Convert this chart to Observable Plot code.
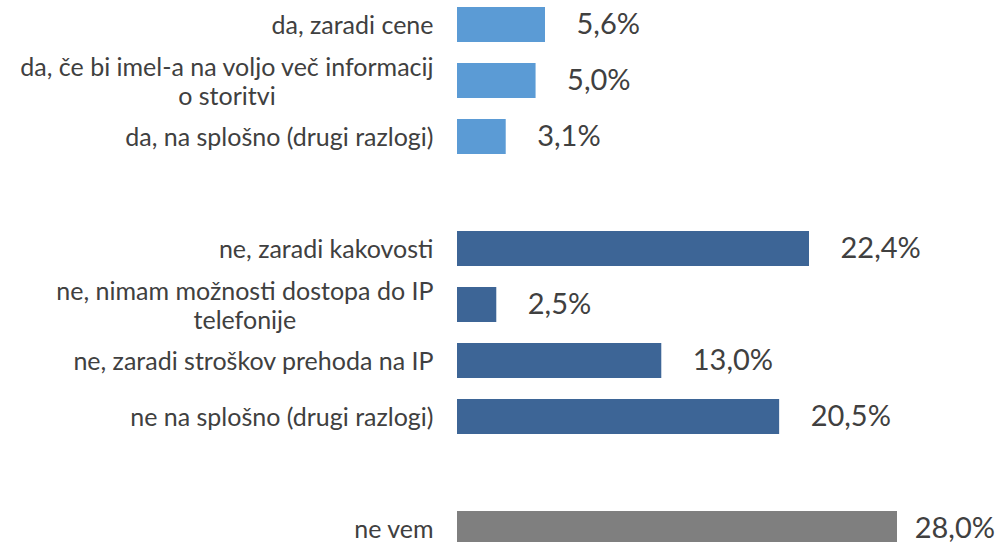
<!DOCTYPE html>
<html>
<head>
<meta charset="utf-8">
<script src="https://cdn.jsdelivr.net/npm/d3@7"></script>
<script src="https://cdn.jsdelivr.net/npm/@observablehq/plot@0.6"></script>
<style>
  html, body { margin: 0; padding: 0; background: #fff; }
  #chart { width: 999px; height: 542px; overflow: hidden; }
</style>
</head>
<body>
<div id="chart"></div>
<script>
const categories = [
  "da, zaradi cene",
  "da, če bi imel-a na voljo več informacij\no storitvi",
  "da, na splošno (drugi razlogi)",
  "ne, zaradi kakovosti",
  "ne, nimam možnosti dostopa do IP\ntelefonije",
  "ne, zaradi stroškov prehoda na IP",
  "ne na splošno (drugi razlogi)",
  "ne vem"
];
const values = [5.6, 5.0, 3.1, 22.4, 2.5, 13.0, 20.5, 28.0];
const groups = ["da", "da", "da", "ne", "ne", "ne", "ne", "ne vem"];
const groupColors = ["#5B9BD5", "#3D6596", "#7F7F7F"];
const spacers = [" ", "  "];

const data = categories.map((c, i) => ({category: c, value: values[i], group: groups[i]}));
const yDomain = [
  ...categories.slice(0, 3), spacers[0],
  ...categories.slice(3, 7), spacers[1],
  categories[7]
];
const fmt = v => v.toFixed(1).replace(".", ",") + "%";
const FONT = "Lato, 'Open Sans', sans-serif";

const chart = Plot.plot({
  width: 999,
  height: 542,
  style: {fontFamily: FONT, background: "#fff", color: "#404040"},
  x: {domain: [0, 28], range: [457, 897], axis: null},
  y: {domain: yDomain, range: [-14, 567], padding: 0.375, axis: null},
  color: {domain: ["da", "ne", "ne vem"], range: groupColors},
  marks: [
    Plot.barX(data, {x: "value", y: "category", fill: "group"}),
    Plot.text(data, {
      x: 0, y: "category", text: "category",
      textAnchor: "end", dx: -24, fontSize: 25, lineHeight: 1.17,
      fill: "#404040", className: "catlabels"
    }),
    Plot.text(data, {
      x: "value", y: "category", text: d => fmt(d.value),
      textAnchor: "start", dx: 31, fontSize: 29, fill: "#404040",
      className: "vallabels"
    })
  ]
});
document.getElementById("chart").appendChild(chart);

// Excel-style: multi-line labels are right-aligned as a block, lines centered within it
chart.querySelectorAll(".catlabels text").forEach(t => {
  const spans = t.querySelectorAll("tspan");
  if (spans.length > 1) {
    const w = Math.max(...Array.from(spans, s => s.getComputedTextLength()));
    t.setAttribute("text-anchor", "middle");
    spans.forEach(s => s.setAttribute("x", -w / 2));
  }
});
// Keep data labels inside the chart area (as Excel does)
chart.querySelectorAll(".vallabels text").forEach(t => {
  const b = t.getBoundingClientRect();
  const limit = 995;
  if (b.right > limit) {
    const shift = b.right - limit;
    const cur = t.getAttribute("transform") || "";
    t.setAttribute("transform", cur + ` translate(${-shift},0)`);
  }
});
</script>
</body>
</html>
